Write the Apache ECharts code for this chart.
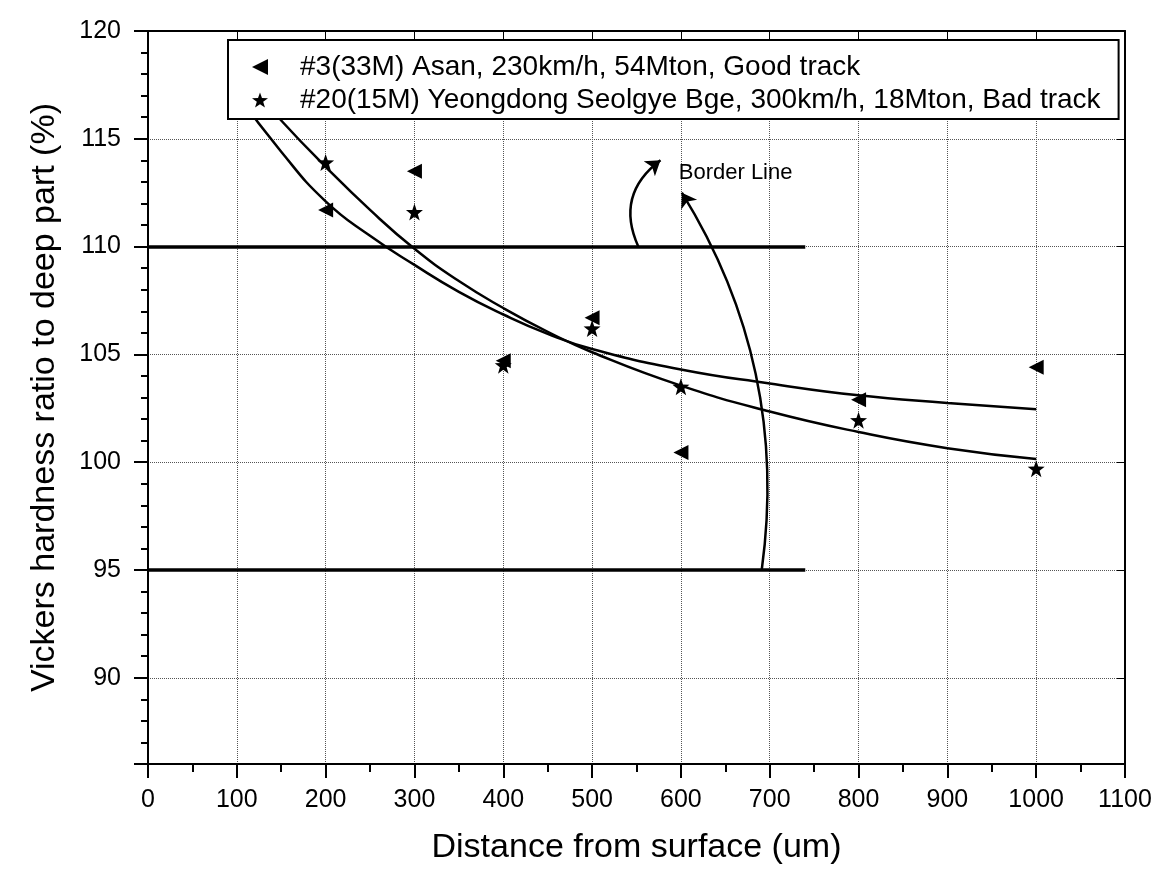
<!DOCTYPE html>
<html>
<head>
<meta charset="utf-8">
<script src="https://cdn.jsdelivr.net/npm/echarts@6/dist/echarts.min.js"></script>
<style>
  html, body { margin: 0; padding: 0; background: #fff; }
  #chart { width: 1173px; height: 870px; }
</style>
</head>
<body>
<div id="chart"></div>
<script>
const goodTrackName = '#3(33M) Asan, 230km/h, 54Mton, Good track'
const badTrackName = '#20(15M) Yeongdong Seolgye Bge, 300km/h, 18Mton, Bad track'

// measured points
const distances = [100, 200, 300, 400, 500, 600, 800, 1000]
const goodTrack = [116.7, 111.7, 113.5, 104.7, 106.7, 100.45, 102.9, 104.4]
const badTrack = [118.3, 113.9, 111.6, 104.5, 106.2, 103.5, 101.95, 99.7]

// fitted curves
const fitDistances = [100, 150, 200, 250, 300, 350, 400, 450, 500, 600, 700, 800, 900, 1000]
const goodFit = [117.1, 114.4, 112.1, 110.5, 109.15, 107.9, 106.85, 105.95, 105.25, 104.3, 103.65, 103.1, 102.75, 102.45]
const badFit = [118.2, 115.85, 113.7, 111.7, 109.9, 108.4, 107.15, 106.05, 105.1, 103.55, 102.35, 101.4, 100.65, 100.15]

// border lines and the arrows pointing at them
const borderLevels = [110, 95]
const borderRange = [0, 740]
const borderLabelAt = [597, 113.4]
const arrowCoords = [
  [[552, 110], [577, 114.0]],
  [[691, 95], [601, 112.5]]
]
const arrowBends = [0.4, -0.18]

const font = 'Liberation Sans, Arial, sans-serif'
const starPath = 'path://M50 0 L61.76 33.82 L97.55 34.55 L69.02 56.18 L79.39 90.45 L50 70 L20.61 90.45 L30.98 56.18 L2.45 34.55 L38.24 33.82 Z'
const leftTriangle = 'path://M0 50 L100 0 L100 100 Z'

const pairs = (xs, ys) => xs.map((x, i) => [x, ys[i]])

const chart = echarts.init(document.getElementById('chart'))

const blackLine = { color: '#000', width: 2 }
const gridDots = { color: '#555', type: 'dotted', width: 1 }

const fitLine = (name, values) => ({
  name: name,
  type: 'line',
  smooth: true,
  showSymbol: false,
  silent: true,
  lineStyle: { color: '#000', width: 2.5 },
  data: pairs(fitDistances, values)
})

const option = {
  animation: false,
  backgroundColor: '#fff',
  textStyle: { fontFamily: font, color: '#000' },
  grid: { left: 148, right: 48, top: 31, bottom: 106 },
  legend: {
    data: [goodTrackName, badTrackName],
    orient: 'vertical',
    left: 228,
    top: 40,
    backgroundColor: '#fff',
    borderColor: '#000',
    borderWidth: 2,
    padding: [12, 18, 4, 24],
    itemWidth: 16,
    itemHeight: 16,
    itemGap: 3,
    textStyle: { fontSize: 28, fontFamily: font, color: '#000', lineHeight: 30, padding: [0, 0, 0, 27] }
  },
  xAxis: [
    {
      type: 'value',
      min: 0,
      max: 1100,
      interval: 100,
      name: 'Distance from surface (um)',
      nameLocation: 'middle',
      nameGap: 67,
      nameTextStyle: { fontSize: 34, fontFamily: font, color: '#000' },
      axisLine: { show: true, onZero: false, lineStyle: blackLine },
      axisTick: { show: true, length: 14, lineStyle: blackLine },
      minorTick: { show: true, splitNumber: 2, length: 8, lineStyle: blackLine },
      axisLabel: { fontSize: 25, color: '#000', margin: 24, fontFamily: font, formatter: v => String(v) },
      splitLine: { show: true, lineStyle: gridDots }
    },
    {
      type: 'value',
      position: 'top',
      min: 0,
      max: 1100,
      interval: 100,
      axisLine: { show: true, onZero: false, lineStyle: blackLine },
      axisTick: { show: true, inside: true, length: 8, lineStyle: { color: '#000', width: 1 } },
      axisLabel: { show: false },
      splitLine: { show: false }
    }
  ],
  yAxis: [
    {
      type: 'value',
      min: 86,
      max: 120,
      splitNumber: 7,
      name: 'Vickers hardness ratio to deep part (%)',
      nameLocation: 'middle',
      nameGap: 86,
      nameTextStyle: { fontSize: 34, fontFamily: font, color: '#000' },
      axisLine: { show: true, onZero: false, lineStyle: blackLine },
      axisTick: { show: true, length: 14, lineStyle: blackLine },
      minorTick: { show: true, splitNumber: 5, length: 7, lineStyle: blackLine },
      axisLabel: {
        fontSize: 25, color: '#000', margin: 27, fontFamily: font,
        formatter: v => (v % 5 === 0 ? String(v) : '')
      },
      splitLine: { show: true, lineStyle: gridDots }
    },
    {
      type: 'value',
      position: 'right',
      min: 86,
      max: 120,
      splitNumber: 7,
      axisLine: { show: true, onZero: false, lineStyle: blackLine },
      axisTick: { show: true, inside: true, length: 8, lineStyle: { color: '#000', width: 1 } },
      axisLabel: { show: false },
      splitLine: { show: false }
    }
  ],
  series: [
    {
      name: goodTrackName,
      type: 'scatter',
      symbol: leftTriangle,
      symbolSize: 15,
      itemStyle: { color: '#000', opacity: 1 },
      data: pairs(distances, goodTrack),
      z: 3,
      markLine: {
        silent: true,
        symbol: ['none', 'none'],
        label: { show: false },
        lineStyle: { color: '#000', width: 3.5, type: 'solid' },
        data: borderLevels.map(v => [{ coord: [borderRange[0], v] }, { coord: [borderRange[1], v] }])
      }
    },
    {
      name: badTrackName,
      type: 'scatter',
      symbol: starPath,
      symbolSize: 17,
      itemStyle: { color: '#000', opacity: 1 },
      data: pairs(distances, badTrack),
      z: 3
    },
    fitLine('good fit', goodFit),
    fitLine('bad fit', badFit),
    {
      name: 'arrows',
      type: 'lines',
      coordinateSystem: 'cartesian2d',
      silent: true,
      symbol: ['none', 'arrow'],
      symbolSize: 14,
      lineStyle: { color: '#000', width: 2.5, opacity: 1 },
      data: arrowCoords.map((c, i) => ({ coords: c, lineStyle: { curveness: arrowBends[i] } })),
      markPoint: {
        silent: true,
        symbol: 'circle',
        symbolSize: 1,
        itemStyle: { color: 'rgba(0,0,0,0)' },
        label: {
          show: true,
          position: 'right',
          distance: 0,
          formatter: 'Border Line',
          fontSize: 22,
          fontFamily: font,
          color: '#000'
        },
        data: [{ coord: borderLabelAt }]
      }
    }
  ]
}

chart.setOption(option)
</script>
</body>
</html>
